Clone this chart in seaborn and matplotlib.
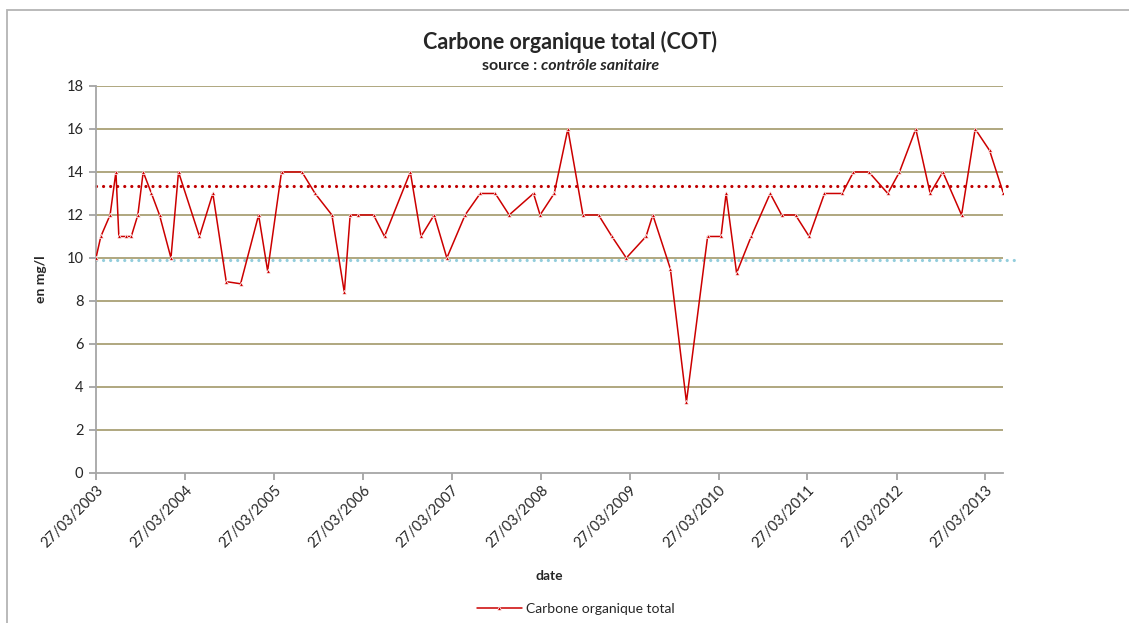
import numpy as np
import matplotlib
matplotlib.use("Agg")
import matplotlib.pyplot as plt
import matplotlib.dates as mdates
from matplotlib.patches import Rectangle
import pandas as pd
import seaborn as sns

dates = ["2003-03-27", "2003-04-16", "2003-05-24", "2003-06-17", "2003-06-29", "2003-07-28",
         "2003-08-19", "2003-09-15", "2003-10-07", "2003-11-10", "2003-12-13", "2004-01-29",
         "2004-02-29", "2004-05-25", "2004-07-19", "2004-09-12", "2004-11-10", "2005-01-23",
         "2005-03-01", "2005-04-27", "2005-07-20", "2005-09-12", "2005-11-20", "2006-01-10",
         "2006-02-03", "2006-03-07", "2006-05-10", "2006-06-24", "2006-10-08", "2006-11-21",
         "2007-01-14", "2007-03-07", "2007-05-21", "2007-07-22", "2007-09-22", "2007-11-18",
         "2008-02-26", "2008-03-24", "2008-05-21", "2008-07-16", "2008-09-16", "2008-11-19",
         "2009-01-13", "2009-03-13", "2009-06-02", "2009-06-30", "2009-09-10", "2009-11-15",
         "2010-02-10", "2010-04-06", "2010-04-27", "2010-06-09", "2010-08-08", "2010-10-25",
         "2010-12-11", "2011-02-06", "2011-04-03", "2011-06-05", "2011-08-17", "2011-10-02",
         "2011-12-04", "2012-02-20", "2012-04-08", "2012-06-14", "2012-08-12", "2012-10-03",
         "2012-12-19", "2013-02-13", "2013-04-13", "2013-06-09"]
cot = [10, 11, 12, 14, 11, 11,
       11, 12, 14, 13, 12, 10,
       14, 11, 13, 8.9, 8.8, 12,
       9.4, 14, 14, 13, 12, 8.4,
       12, 12, 12, 11, 14, 11,
       12, 10, 12, 13, 13, 12,
       13, 12, 13, 16, 12, 12,
       11, 10, 11, 12, 9.5, 3.3,
       11, 11, 13, 9.3, 11, 13,
       12, 12, 11, 13, 13, 14,
       14, 13, 14, 16, 13, 14,
       12, 16, 15, 13]

moyenne_recente = 13.33
moyenne_ancienne = 9.9

tick_dates = ["2003-03-27", "2004-03-27", "2005-03-27", "2006-03-27", "2007-03-27", "2008-03-27",
              "2009-03-27", "2010-03-27", "2011-03-27", "2012-03-27", "2013-03-27"]
y_ticks = [0, 2, 4, 6, 8, 10, 12, 14, 16, 18]

df = pd.DataFrame({"date": pd.to_datetime(dates), "cot": cot})

sns.set_theme(style="white")
plt.rcParams["font.family"] = ["Lato", "DejaVu Sans"]

fig = plt.figure(figsize=(11.29, 6.23), dpi=100)
ax = fig.add_axes([0.085, 0.2408, 0.8038, 0.6212])

# cadre du graphique
fig.patches.append(Rectangle((7 / 1129, -0.05), 1.1, 1 - 10 / 623 + 0.05, transform=fig.transFigure,
                             fill=False, edgecolor="#b4b4b4", linewidth=1.3, zorder=0))

for v in y_ticks[1:]:
    ax.axhline(v, color="#9a8f5c", lw=1.1, zorder=1)

ax.axhline(moyenne_recente, xmin=0, xmax=1.005, color="#c00000", lw=2.3,
           linestyle=(0, (0.01, 2.2)), dash_capstyle="round", clip_on=False, zorder=2)
ax.axhline(moyenne_ancienne, xmin=0, xmax=1.012, color="#92cddc", lw=2.3,
           linestyle=(0, (0.01, 2.2)), dash_capstyle="round", clip_on=False, zorder=2)

sns.lineplot(data=df, x="date", y="cot", ax=ax, color="#cc0000", lw=1.1, marker="^",
             markersize=3, markeredgewidth=0.5, label="Carbone organique total", legend=False,
             zorder=3)

ax.set_xlim(df["date"].iloc[0], df["date"].iloc[-1])
ax.set_ylim(0, 18)
ax.set_yticks(y_ticks)
ax.set_xticks(pd.to_datetime(tick_dates))
ax.xaxis.set_major_formatter(mdates.DateFormatter("%d/%m/%Y"))
ax.tick_params(axis="x", labelsize=10.5, length=5, color="#a0a0a0", direction="out",
               bottom=True, pad=2)
ax.tick_params(axis="y", labelsize=10.5, length=5, color="#a0a0a0", direction="out",
               left=True, pad=4)
plt.setp(ax.get_xticklabels(), rotation=45, ha="right", rotation_mode="anchor")

for s in ["top", "right"]:
    ax.spines[s].set_visible(False)
for s in ["left", "bottom"]:
    ax.spines[s].set_color("#a6a6a6")
    ax.spines[s].set_linewidth(1.3)

ax.set_xlabel("date", fontsize=10, fontweight="bold", labelpad=14)
ax.set_ylabel("en mg/l", fontsize=10, fontweight="bold", labelpad=14)

fig.text(0.505, 0.933, "Carbone organique total (COT)", ha="center", va="center",
         fontsize=15.5, fontweight="bold")
fig.text(0.479, 0.894, "source : ", ha="right", va="center", fontsize=11.5, fontweight="bold")
fig.text(0.479, 0.894, "contrôle sanitaire", ha="left", va="center", fontsize=11.5,
         fontweight="bold", style="italic")

fig.legend(*ax.get_legend_handles_labels(), loc="center", bbox_to_anchor=(0.51, 0.022),
           frameon=False, fontsize=10, handlelength=3.2, handletextpad=0.3)

fig.savefig("out.png", dpi=100)
